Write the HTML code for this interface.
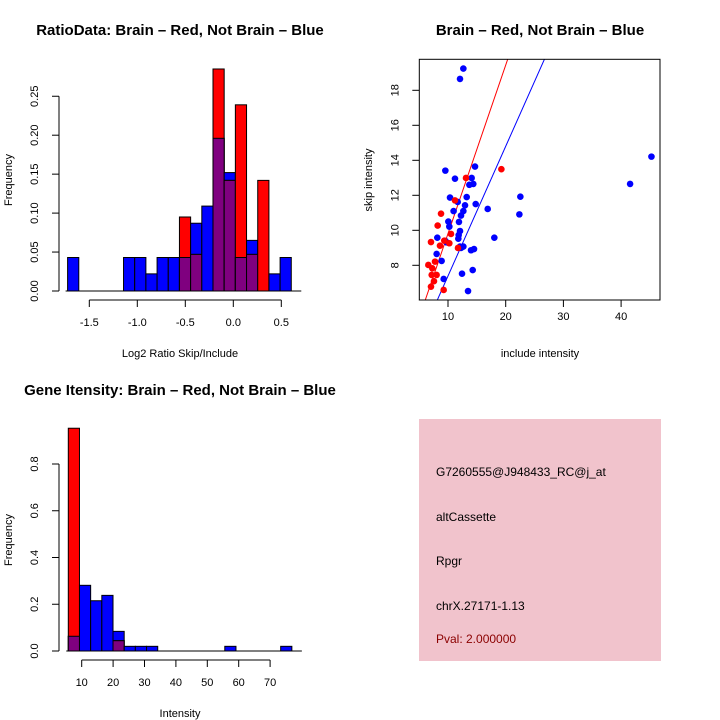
<!DOCTYPE html>
<html><head><meta charset="utf-8">
<style>
body{margin:0;background:#fff;}
svg{display:block;font-family:"Liberation Sans",sans-serif;}
</style></head>
<body>
<svg id="c" width="720" height="720" viewBox="0 0 720 720">
<rect x="0" y="0" width="720" height="720" fill="#fff"/>
</svg>
<script>
// ---- Ratio histogram data ----
const ratioBreakStart = -1.726;
const ratioBinWidth = 0.1165;
const ratioBlue = [0.043,0,0,0,0,0.043,0.043,0.022,0.043,0.043,0.043,0.087,0.109,0.196,0.152,0.043,0.065,0,0.022,0.043];
const ratioRed  = [0,0,0,0,0,0,0,0,0,0,0.095,0.047,0,0.285,0.142,0.239,0.047,0.142,0,0];
const ratioXTicks = [-1.5,-1.0,-0.5,0.0,0.5];
const ratioXTickLabels = ["-1.5","-1.0","-0.5","0.0","0.5"];
const ratioYTicks = [0,0.05,0.10,0.15,0.20,0.25];
const ratioYTickLabels = ["0.00","0.05","0.10","0.15","0.20","0.25"];
// ---- Scatter data ----
const blueX = [12.66,12.08,9.54,14.68,11.21,14.1,13.7,14.39,10.35,13.24,11.68,12.95,14.8,10.97,12.66,12.25,16.88,22.54,22.37,10.06,11.9,10.23,12.08,11.85,11.79,8.15,9.54,9.77,18.03,12.08,12.66,12.25,13.99,14.51,8.03,8.9,14.28,12.43,9.25,13.47,41.56,45.26];
const blueY = [19.24,18.65,13.41,13.64,12.95,12.99,12.6,12.65,11.87,11.9,11.62,11.43,11.5,11.1,11.1,10.84,11.22,11.92,10.91,10.5,10.48,10.21,9.96,9.73,9.52,9.58,9.39,9.31,9.58,9.07,9.07,8.99,8.86,8.93,8.65,8.25,7.73,7.52,7.22,6.53,12.65,14.21];
const redX = [13.12,19.25,11.21,8.79,8.21,10.52,7.05,8.61,10.23,9.36,11.73,6.59,7.28,7.75,7.17,8.03,7.57,7.05,9.25];
const redY = [12.99,13.49,11.71,10.95,10.27,9.79,9.33,9.12,9.26,9.41,8.99,8.02,7.83,8.21,7.45,7.45,7.09,6.78,6.59];
const redLine = [0.18,0.963];   // intercept, slope
const blueLine = [-0.02,0.741];
const scXTicks = [10,20,30,40];
const scYTicks = [8,10,12,14,16,18];
// ---- Intensity histogram data ----
const intBreakStart = 5.73;
const intBinWidth = 3.56;
const intBlue = [0.063,0.281,0.215,0.238,0.084,0.02,0.02,0.02,0,0,0,0,0,0,0.02,0,0,0,0,0.02];
const intRed  = [0.953,0,0,0,0.044,0,0,0,0,0,0,0,0,0,0,0,0,0,0,0];
const intXTicks = [10,20,30,40,50,60,70];
const intYTicks = [0,0.2,0.4,0.6,0.8];
const intYTickLabels = ["0.0","0.2","0.4","0.6","0.8"];

const NS="http://www.w3.org/2000/svg";
const svg=document.getElementById('c');
function el(tag,attrs,parent){const e=document.createElementNS(NS,tag);for(const k in attrs)e.setAttribute(k,attrs[k]);(parent||svg).appendChild(e);return e;}
function txt(s,x,y,attrs,parent){const t=el('text',Object.assign({x:x,y:y,'font-size':11,'text-anchor':'middle',fill:'#000'},attrs||{}),parent);t.textContent=s;return t;}

function histogram(name,g,start,bw,blue,red,sx,sy){
  for(let i=0;i<blue.length;i++){
    const x0=sx(start+i*bw), x1=sx(start+(i+1)*bw);
    const b=blue[i], r=red[i];
    if(b>0){const e=el('rect',{x:x0,y:sy(b),width:x1-x0,height:sy(0)-sy(b),fill:'#0000ff',stroke:'#000','stroke-width':1},g);
      
      }
    if(r>0){const e=el('rect',{x:x0,y:sy(r),width:x1-x0,height:sy(0)-sy(r),fill:'#ff0000',stroke:'#000','stroke-width':1},g);
      
      }
    const m=Math.min(b,r);
    if(m>0){const e=el('rect',{x:x0,y:sy(m),width:x1-x0,height:sy(0)-sy(m),fill:'#7f007f',stroke:'#000','stroke-width':1},g);
      
      }
  }
}
function yAxis(g,ax,ticks,labels,sy){
  el('line',{x1:ax,x2:ax,y1:sy(ticks[0]),y2:sy(ticks[ticks.length-1]),stroke:'#000'},g);
  ticks.forEach((v,i)=>{const y=sy(v);el('line',{x1:ax-7,x2:ax,y1:y,y2:y,stroke:'#000'},g);
    const t=txt(labels[i],ax-21,y,{transform:`rotate(-90 ${ax-21} ${y})`},g);
    
    });
}
function xAxis(g,ay,ticks,labels,sx){
  el('line',{x1:sx(ticks[0]),x2:sx(ticks[ticks.length-1]),y1:ay,y2:ay,stroke:'#000'},g);
  ticks.forEach((v,i)=>{const x=sx(v);el('line',{x1:x,x2:x,y1:ay,y2:ay+7,stroke:'#000'},g);
    const t=txt(labels[i],x,ay+26,{},g);
    
    });
}

// Panel 1
(function(){
  const g=el('g',{});
  
  
  const sx=v=>233.3+(v-0)*96;
  const sy=v=>291-v*779;
  histogram('ratio',g,ratioBreakStart,ratioBinWidth,ratioBlue,ratioRed,sx,sy);
  el('line',{x1:sx(ratioBreakStart)-2,x2:sx(ratioBreakStart+20*ratioBinWidth)+10,y1:291,y2:291,stroke:'#000'},g);
  yAxis(g,59,ratioYTicks,ratioYTickLabels,sy);
  xAxis(g,300,ratioXTicks,ratioXTickLabels,sx);
  const t=txt('RatioData: Brain – Red, Not Brain – Blue',180,35,{'font-size':15,'font-weight':'bold'},g);
  
  const xl=txt('Log2 Ratio Skip/Include',180,357,{},g);
  
  const yl=txt('Frequency',12,180,{transform:'rotate(-90 12 180)'},g);
  
})();

// Panel 2
(function(){
  const g=el('g',{});
  
  
  const sx=v=>448+(v-10)*5.77;
  const sy=v=>265.3-(v-8)*17.5;
  const L=419.3,R=660,T=59.3,B=300;
  const cp=el('clipPath',{id:'scclip'},g);el('rect',{x:L,y:T,width:R-L,height:B-T},cp);
  const lg=el('g',{'clip-path':'url(#scclip)'},g);
  [[redLine,'#ff0000','red-fit-line'],[blueLine,'#0000ff','blue-fit-line']].forEach(([p,c,n])=>{
    const x0=0,x1=60;
    const e=el('line',{x1:sx(x0),y1:sy(p[0]+p[1]*x0),x2:sx(x1),y2:sy(p[0]+p[1]*x1),stroke:c,'stroke-width':1},lg);
    
  });
  blueX.forEach((x,i)=>{const e=el('circle',{cx:sx(x),cy:sy(blueY[i]),r:3.3,fill:'#0000ff'},lg);
    });
  redX.forEach((x,i)=>{const e=el('circle',{cx:sx(x),cy:sy(redY[i]),r:3.3,fill:'#ff0000'},lg);
    });
  el('rect',{x:L,y:T,width:R-L,height:B-T,fill:'none',stroke:'#000'},g);
  scXTicks.forEach(v=>{const x=sx(v);el('line',{x1:x,x2:x,y1:B,y2:B+7,stroke:'#000'},g);
    const t=txt(String(v),x,B+20,{},g);});
  scYTicks.forEach(v=>{const y=sy(v);el('line',{x1:L-7,x2:L,y1:y,y2:y,stroke:'#000'},g);
    const t=txt(String(v),L-21,y,{transform:`rotate(-90 ${L-21} ${y})`},g);});
  const t=txt('Brain – Red, Not Brain – Blue',540,35,{'font-size':15,'font-weight':'bold'},g);
  
  const xl=txt('include intensity',540,357,{},g);
  
  const yl=txt('skip intensity',372,180,{transform:'rotate(-90 372 180)'},g);
  
})();

// Panel 3
(function(){
  const g=el('g',{});
  
  
  const sx=v=>81.7+(v-10)*3.14;
  const sy=v=>651-v*233.75;
  histogram('intensity',g,intBreakStart,intBinWidth,intBlue,intRed,sx,sy);
  el('line',{x1:sx(intBreakStart)-2,x2:sx(intBreakStart+20*intBinWidth)+10,y1:651,y2:651,stroke:'#000'},g);
  yAxis(g,59,intYTicks,intYTickLabels,sy);
  xAxis(g,660,intXTicks,intXTicks.map(String),sx);
  const t=txt('Gene Itensity: Brain – Red, Not Brain – Blue',180,395,{'font-size':15,'font-weight':'bold'},g);
  
  const xl=txt('Intensity',180,717,{},g);
  
  const yl=txt('Frequency',12,540,{transform:'rotate(-90 12 540)'},g);
  
})();

// Panel 4
(function(){
  const g=el('g',{});
  
  
  el('rect',{x:419,y:419,width:242,height:242,fill:'#f1c3cc'},g);
  const lines=[['G7260555@J948433_RC@j_at',476,'#000','probe-id'],['altCassette',521,'#000','event-type'],['Rpgr',565,'#000','gene-name'],['chrX.27171-1.13',610,'#000','location'],['Pval: 2.000000',643,'#8b0000','p-value']];
  lines.forEach(([s,y,c,n])=>{const t=txt(s,436,y,{'text-anchor':'start',fill:c,'font-size':12},g);
    });
})();
</script>
</body></html>
